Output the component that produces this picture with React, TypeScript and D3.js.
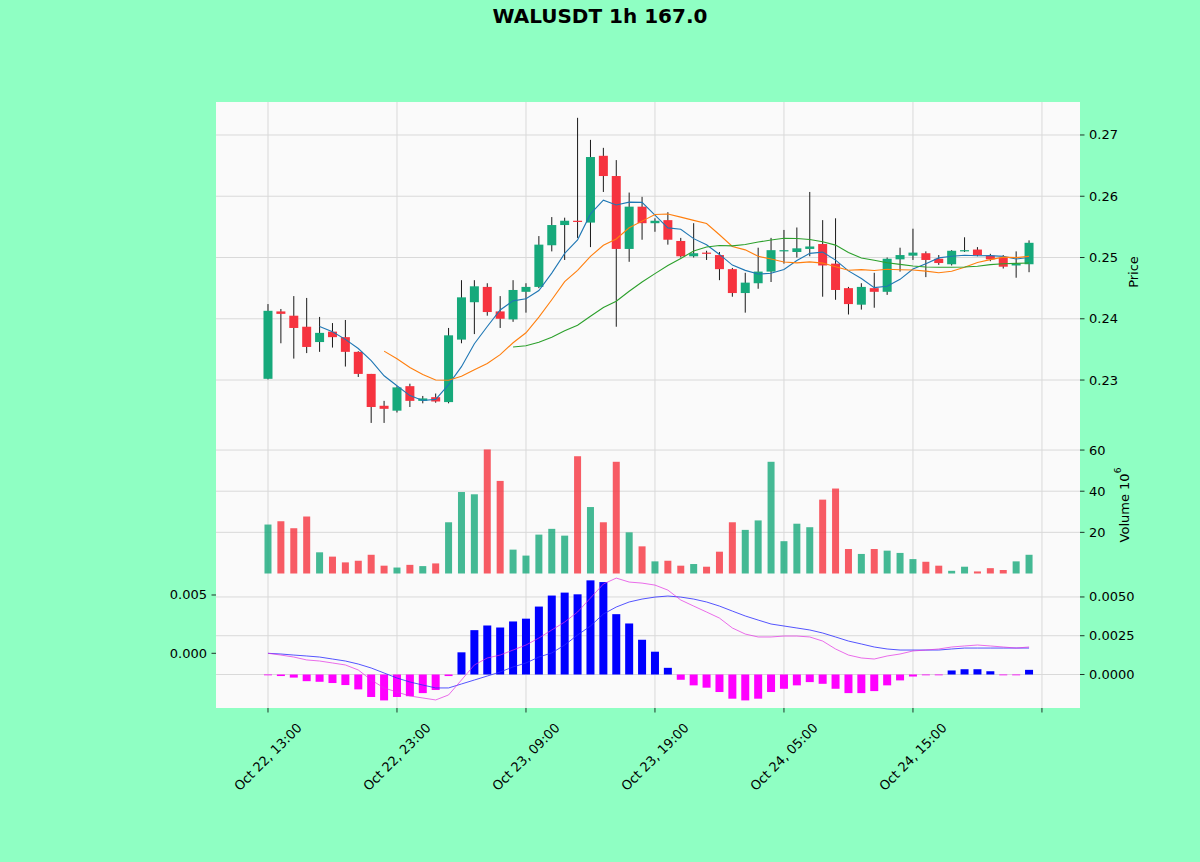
import React from "react";
import * as d3 from "d3";

const title = "WALUSDT 1h 167.0";
const xTickIndex = [0, 10, 20, 30, 40, 50, 60];
const xTickLabels = ["Oct 22, 13:00", "Oct 22, 23:00", "Oct 23, 09:00", "Oct 23, 19:00", "Oct 24, 05:00", "Oct 24, 15:00", ""];

const opens = [0.2302, 0.2412, 0.2405, 0.2387, 0.2362, 0.2379, 0.2370, 0.2346, 0.2310, 0.2258,
  0.2250, 0.2290, 0.2266, 0.2272, 0.2264, 0.2366, 0.2427, 0.2452, 0.2412, 0.2399,
  0.2444, 0.2452, 0.2520, 0.2553, 0.2560, 0.2557, 0.2666, 0.2633, 0.2514, 0.2583,
  0.2556, 0.2561, 0.2527, 0.2502, 0.2508, 0.2504, 0.2481, 0.2442, 0.2458, 0.2477,
  0.2510, 0.2509, 0.2514, 0.2522, 0.2490, 0.2450, 0.2423, 0.2450, 0.2444, 0.2497,
  0.2503, 0.2507, 0.2498, 0.2489, 0.2510, 0.2513, 0.2503, 0.2500, 0.2487, 0.2489];
const highs = [0.2424, 0.2416, 0.2437, 0.2434, 0.2403, 0.2393, 0.2398, 0.2347, 0.2310, 0.2266,
  0.2290, 0.2294, 0.2274, 0.2278, 0.2385, 0.2463, 0.2463, 0.2458, 0.2437, 0.2463,
  0.2458, 0.2535, 0.2566, 0.2565, 0.2728, 0.2692, 0.2679, 0.2659, 0.2606, 0.2599,
  0.2564, 0.2574, 0.2532, 0.2556, 0.2511, 0.2509, 0.2483, 0.2475, 0.2516, 0.2532,
  0.2545, 0.2549, 0.2607, 0.2561, 0.2564, 0.2452, 0.2458, 0.2475, 0.2500, 0.2516,
  0.2547, 0.2510, 0.2504, 0.2512, 0.2533, 0.2517, 0.2506, 0.2504, 0.2510, 0.2528];
const lows = [0.2301, 0.2360, 0.2335, 0.2344, 0.2346, 0.2353, 0.2322, 0.2305, 0.2230, 0.2230,
  0.2247, 0.2256, 0.2262, 0.2263, 0.2262, 0.2360, 0.2375, 0.2405, 0.2385, 0.2395,
  0.2410, 0.2450, 0.2510, 0.2496, 0.2532, 0.2517, 0.2607, 0.2387, 0.2493, 0.2529,
  0.2542, 0.2521, 0.2500, 0.2500, 0.2496, 0.2463, 0.2436, 0.2410, 0.2449, 0.2460,
  0.2490, 0.2500, 0.2502, 0.2436, 0.2431, 0.2407, 0.2415, 0.2418, 0.2439, 0.2477,
  0.2496, 0.2468, 0.2488, 0.2487, 0.2509, 0.2502, 0.2494, 0.2482, 0.2467, 0.2476];
const closes = [0.2413, 0.2408, 0.2385, 0.2354, 0.2377, 0.2370, 0.2346, 0.2310, 0.2256, 0.2253,
  0.2288, 0.2266, 0.2270, 0.2265, 0.2373, 0.2435, 0.2453, 0.2411, 0.2400, 0.2447,
  0.2452, 0.2521, 0.2553, 0.2560, 0.2558, 0.2664, 0.2633, 0.2514, 0.2583, 0.2556,
  0.2560, 0.2529, 0.2502, 0.2507, 0.2506, 0.2481, 0.2442, 0.2459, 0.2477, 0.2512,
  0.2512, 0.2515, 0.2518, 0.2487, 0.2447, 0.2424, 0.2452, 0.2444, 0.2498, 0.2504,
  0.2508, 0.2496, 0.2491, 0.2511, 0.2512, 0.2504, 0.2497, 0.2485, 0.2490, 0.2524];
// volume in millions
const volumes = [23.8, 25.4, 22.0, 27.7, 10.3, 8.2, 5.4, 6.2, 9.1, 3.8,
  2.9, 4.2, 3.6, 4.9, 24.9, 39.6, 38.5, 60.3, 45.0, 11.6,
  8.7, 18.9, 21.7, 18.4, 57.0, 32.3, 24.9, 54.3, 20.0, 13.2,
  5.9, 6.2, 3.8, 4.6, 3.3, 10.6, 24.9, 21.2, 25.8, 54.3,
  15.7, 24.2, 22.5, 35.9, 41.3, 11.9, 9.5, 11.9, 11.1, 10.0,
  7.0, 5.7, 3.8, 1.3, 3.3, 1.0, 2.6, 1.7, 5.9, 9.1];
const macdLine = [0.00000, -0.00015, -0.00032, -0.00057, -0.00066, -0.00083, -0.00100, -0.00143, -0.00229, -0.00297,
  -0.00332, -0.00366, -0.00383, -0.00400, -0.00357, -0.00229, -0.00100, -0.00040, -0.00015, 0.00028,
  0.00071, 0.00131, 0.00200, 0.00268, 0.00354, 0.00474, 0.00594, 0.00645, 0.00611, 0.00602,
  0.00585, 0.00542, 0.00457, 0.00405, 0.00354, 0.00302, 0.00217, 0.00165, 0.00140, 0.00140,
  0.00148, 0.00148, 0.00140, 0.00105, 0.00037, -0.00015, -0.00040, -0.00049, -0.00023, -0.00006,
  0.00020, 0.00028, 0.00037, 0.00054, 0.00063, 0.00071, 0.00063, 0.00054, 0.00045, 0.00054];
const signalLine = [0.00000, -0.00006, -0.00015, -0.00023, -0.00032, -0.00049, -0.00066, -0.00092, -0.00126, -0.00169,
  -0.00212, -0.00246, -0.00272, -0.00297, -0.00297, -0.00263, -0.00229, -0.00195, -0.00160, -0.00117,
  -0.00083, -0.00032, 0.00003, 0.00071, 0.00157, 0.00234, 0.00337, 0.00397, 0.00440, 0.00465,
  0.00482, 0.00491, 0.00482, 0.00465, 0.00440, 0.00405, 0.00362, 0.00320, 0.00285, 0.00251,
  0.00234, 0.00217, 0.00200, 0.00174, 0.00140, 0.00105, 0.00080, 0.00054, 0.00037, 0.00028,
  0.00028, 0.00028, 0.00028, 0.00037, 0.00045, 0.00045, 0.00045, 0.00045, 0.00045, 0.00045];
const histValues = [-0.00005, -0.00010, -0.00020, -0.00043, -0.00047, -0.00055, -0.00068, -0.00096, -0.00145, -0.00167,
  -0.00145, -0.00140, -0.00120, -0.00100, -0.00010, 0.00143, 0.00286, 0.00316, 0.00303, 0.00342,
  0.00360, 0.00438, 0.00509, 0.00528, 0.00517, 0.00607, 0.00596, 0.00389, 0.00329, 0.00224,
  0.00147, 0.00043, -0.00034, -0.00070, -0.00085, -0.00113, -0.00156, -0.00167, -0.00156, -0.00113,
  -0.00092, -0.00070, -0.00049, -0.00060, -0.00092, -0.00120, -0.00120, -0.00107, -0.00070, -0.00038,
  -0.00013, -0.00005, -0.00003, 0.00026, 0.00034, 0.00034, 0.00021, -0.00002, -0.00003, 0.00030];

const priceTicks = [0.23, 0.24, 0.25, 0.26, 0.27];
const volumeTicks = [20, 40, 60];
const macdLeftTicks = [0.0, 0.005];
const macdRightTicks = [0.0, 0.0025, 0.005];
const maPeriods = [5, 10, 20];
const maColors = ["#1f77b4", "#ff7f0e", "#2ca02c"];

const W = 1200, H = 862;
const L = 216, R = 1080;
const P_TOP = 102, P_BOT = 448, V_BOT = 574, M_BOT = 708;
const UP = "#16a97b", DOWN = "#f6333f";
const GRID = "#d9d9d9";
const FONT = "DejaVu Sans, sans-serif";

function sma(arr: number[], n: number): (number | null)[] {
  return arr.map((_, i) => (i < n - 1 ? null : d3.mean(arr.slice(i - n + 1, i + 1)) as number));
}

export default function App() {
  const x = d3.scaleLinear().domain([-4.03, 62.95]).range([L, R]);
  const yP = d3.scaleLinear().domain([0.218907, 0.275383]).range([P_BOT, P_TOP]);
  const yV = d3.scaleLinear().domain([0, 61]).range([573.5, P_BOT]);
  const yML = d3.scaleLinear().domain([-0.00469, 0.0068]).range([M_BOT, V_BOT]);
  const yMR = d3.scaleLinear().domain([-0.00216, 0.00648]).range([M_BOT, V_BOT]);
  const idx = d3.range(closes.length);
  const bodyW = 9, volW = 7, histW = 8;

  const maLine = d3.line<number | null>().defined((d) => d !== null).x((_, i) => x(i)).y((d) => yP(d as number));
  const macdPath = d3.line<number>().x((_, i) => x(i)).y((d) => yML(d));

  const tickFont = { fontFamily: FONT, fontSize: 13, fill: "#000" } as const;

  const hGrid = (ys: number[]) => ys.map((yy, k) => <line key={k} x1={L} x2={R} y1={yy} y2={yy} stroke={GRID} strokeWidth={1} />);

  return (
    <div style={{ position: "fixed", left: 0, top: 0 }}>
      <svg width={W} height={H} xmlns="http://www.w3.org/2000/svg">
        <rect x={0} y={0} width={W} height={H} fill="#8fffc3" />
        <text x={600} y={23} textAnchor="middle" style={{ fontFamily: FONT, fontSize: 20, fontWeight: "bold" }}>{title}</text>

        {/* axes backgrounds */}
        <rect x={L} y={P_TOP} width={R - L} height={M_BOT - P_TOP} fill="#fafafa" />

        {/* vertical grid */}
        {xTickIndex.map((t, k) => (
          <line key={"vg" + k} x1={x(t)} x2={x(t)} y1={P_TOP} y2={M_BOT} stroke={GRID} strokeWidth={1} />
        ))}
        {hGrid(priceTicks.map((t) => yP(t)))}
        {hGrid(volumeTicks.map((t) => yV(t)))}
        {hGrid(macdRightTicks.map((t) => yMR(t)))}

        {/* candles */}
        {idx.map((i) => {
          const up = closes[i] >= opens[i];
          const c = up ? UP : DOWN;
          const yTop = yP(Math.max(opens[i], closes[i]));
          const yBot = yP(Math.min(opens[i], closes[i]));
          return (
            <g key={"c" + i}>
              <line x1={x(i)} x2={x(i)} y1={yP(highs[i])} y2={yP(lows[i])} stroke="#1a1a1a" strokeWidth={1} />
              <rect x={x(i) - bodyW / 2} y={yTop} width={bodyW} height={Math.max(1, yBot - yTop)} fill={c} />
            </g>
          );
        })}

        {/* moving averages */}
        {maPeriods.map((n, k) => (
          <path key={"ma" + n} d={maLine(sma(closes, n)) || ""} fill="none" stroke={maColors[k]} strokeWidth={1.1} />
        ))}

        {/* volume */}
        {idx.map((i) => {
          const up = closes[i] >= opens[i];
          return (
            <rect key={"v" + i} x={x(i) - volW / 2} y={yV(volumes[i])} width={volW} height={yV(0) - yV(volumes[i])}
              fill={up ? UP : DOWN} fillOpacity={0.8} />
          );
        })}

        {/* MACD histogram */}
        {idx.map((i) => {
          const v = histValues[i];
          const y0 = yMR(0), y1 = yMR(v);
          return (
            <rect key={"h" + i} x={x(i) - histW / 2} y={Math.min(y0, y1)} width={histW} height={Math.max(0.8, Math.abs(y1 - y0))}
              fill={v >= 0 ? "#0000ff" : "#ff00ff"} />
          );
        })}
        <path d={macdPath(signalLine) || ""} fill="none" stroke="#2a2aff" strokeWidth={0.8} />
        <path d={macdPath(macdLine) || ""} fill="none" stroke="#e22ee2" strokeWidth={0.7} />

        {/* x ticks */}
        {xTickIndex.map((t, k) => (
          <g key={"xt" + k}>
            <line x1={x(t)} x2={x(t)} y1={M_BOT} y2={M_BOT + 4.5} stroke="#000" strokeWidth={0.8} />
            {xTickLabels[k] && (
              <text x={x(t)} y={757} textAnchor="middle" dominantBaseline="central" transform={`rotate(-45 ${x(t)} 757)`} style={tickFont}>
                {xTickLabels[k]}
              </text>
            )}
          </g>
        ))}

        {/* price right axis */}
        {priceTicks.map((t) => (
          <g key={"pt" + t}>
            <line x1={R} x2={R + 4.5} y1={yP(t)} y2={yP(t)} stroke="#000" strokeWidth={0.8} />
            <text x={R + 9} y={yP(t)} dominantBaseline="central" style={tickFont}>{d3.format(".2f")(t)}</text>
          </g>
        ))}
        <text x={1133} y={272} textAnchor="middle" dominantBaseline="central" transform="rotate(-90 1133 272)" style={tickFont}>Price</text>

        {/* volume right axis */}
        {volumeTicks.map((t) => (
          <g key={"vt" + t}>
            <line x1={R} x2={R + 4.5} y1={yV(t)} y2={yV(t)} stroke="#000" strokeWidth={0.8} />
            <text x={R + 9} y={yV(t)} dominantBaseline="central" style={tickFont}>{t}</text>
          </g>
        ))}
        <text x={1124} y={505} textAnchor="middle" dominantBaseline="central" transform="rotate(-90 1124 505)" style={tickFont}>
          Volume  10<tspan dy={-6} style={{ fontSize: 9 }}>6</tspan>
        </text>

        {/* MACD left axis */}
        {macdLeftTicks.map((t) => (
          <g key={"ml" + t}>
            <line x1={L - 4.5} x2={L} y1={yML(t)} y2={yML(t)} stroke="#000" strokeWidth={0.8} />
            <text x={L - 9} y={yML(t)} textAnchor="end" dominantBaseline="central" style={tickFont}>{d3.format(".3f")(t)}</text>
          </g>
        ))}
        {/* MACD right axis */}
        {macdRightTicks.map((t) => (
          <g key={"mr" + t}>
            <line x1={R} x2={R + 4.5} y1={yMR(t)} y2={yMR(t)} stroke="#000" strokeWidth={0.8} />
            <text x={R + 9} y={yMR(t)} dominantBaseline="central" style={tickFont}>{d3.format(".4f")(t)}</text>
          </g>
        ))}
      </svg>
    </div>
  );
}
